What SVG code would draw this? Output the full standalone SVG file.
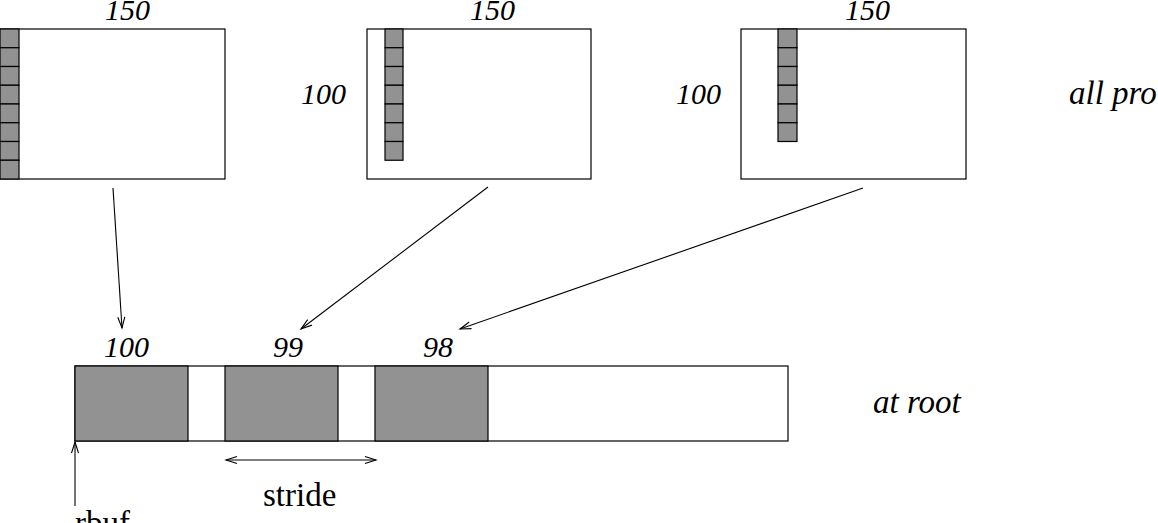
<svg xmlns="http://www.w3.org/2000/svg" width="1158" height="523" viewBox="0 0 1158 523">
<style>
.box{fill:#fff;stroke:#000;stroke-width:1.2}
.cell{fill:#929292;stroke:#000;stroke-width:1.2}
text{font-family:'Liberation Serif','Times New Roman',Times,'DejaVu Serif',serif;fill:#000}
.num{font-style:italic;font-size:30px}
.word{font-style:italic;font-size:33px}
.plain{font-size:33px}
.conn{stroke:#000;stroke-width:1.1;fill:none}
</style>
<defs>
<marker id="ah" markerUnits="userSpaceOnUse" markerWidth="14" markerHeight="10" viewBox="-12 -5 14 10" refX="0" refY="0" orient="auto">
<path d="M-11,-3.5 L0,0 L-11,3.5" fill="none" stroke="#000" stroke-width="1.1"/>
</marker>
<marker id="ahs" markerUnits="userSpaceOnUse" markerWidth="14" markerHeight="10" viewBox="-12 -5 14 10" refX="0" refY="0" orient="auto-start-reverse">
<path d="M-11,-3.5 L0,0 L-11,3.5" fill="none" stroke="#000" stroke-width="1.1"/>
</marker>
</defs>
<rect width="1158" height="523" fill="#fff"/>

<g id="proc0">
<rect class="box" x="0" y="29" width="225" height="150"/>
<rect class="cell" x="0" y="29" width="19" height="18.75"/>
<rect class="cell" x="0" y="47.75" width="19" height="18.75"/>
<rect class="cell" x="0" y="66.5" width="19" height="18.75"/>
<rect class="cell" x="0" y="85.25" width="19" height="18.75"/>
<rect class="cell" x="0" y="104" width="19" height="18.75"/>
<rect class="cell" x="0" y="122.75" width="19" height="18.75"/>
<rect class="cell" x="0" y="141.5" width="19" height="18.75"/>
<rect class="cell" x="0" y="160.25" width="19" height="18.75"/>
<text class="num" x="105" y="20" font-family="Liberation Serif, serif">150</text>
</g>

<g id="proc1">
<rect class="box" x="367" y="29" width="224" height="150"/>
<rect class="cell" x="385" y="29" width="18" height="18.75"/>
<rect class="cell" x="385" y="47.75" width="18" height="18.75"/>
<rect class="cell" x="385" y="66.5" width="18" height="18.75"/>
<rect class="cell" x="385" y="85.25" width="18" height="18.75"/>
<rect class="cell" x="385" y="104" width="18" height="18.75"/>
<rect class="cell" x="385" y="122.75" width="18" height="18.75"/>
<rect class="cell" x="385" y="141.5" width="18" height="18.75"/>
<text class="num" x="470" y="20">150</text>
<text class="num" x="301" y="104">100</text>
</g>

<g id="proc2">
<rect class="box" x="741" y="29" width="225" height="150"/>
<rect class="cell" x="778" y="29" width="19" height="18.75"/>
<rect class="cell" x="778" y="47.75" width="19" height="18.75"/>
<rect class="cell" x="778" y="66.5" width="19" height="18.75"/>
<rect class="cell" x="778" y="85.25" width="19" height="18.75"/>
<rect class="cell" x="778" y="104" width="19" height="18.75"/>
<rect class="cell" x="778" y="122.75" width="19" height="18.75"/>
<text class="num" x="845" y="20">150</text>
<text class="num" x="676" y="104">100</text>
</g>

<g id="label-all">
<text class="word" x="1069" y="104">all pro</text>
</g>

<g id="rootbuf">
<rect class="box" x="75" y="366" width="713" height="75"/>
<rect class="cell" x="75" y="366" width="113" height="75"/>
<rect class="cell" x="225" y="366" width="113" height="75"/>
<rect class="cell" x="375" y="366" width="113" height="75"/>
<text class="num" x="104" y="357">100</text>
<text class="num" x="273" y="357">99</text>
<text class="num" x="423" y="357">98</text>
</g>

<g id="label-root">
<text class="word" x="873" y="413">at root</text>
</g>

<g id="label-stride">
<text class="plain" x="263" y="506">stride</text>
</g>

<g id="label-rbuf">
<text class="plain" x="75" y="534">rbuf</text>
</g>

<g id="connectors">
<line class="conn" x1="113" y1="188" x2="122" y2="328" marker-end="url(#ah)"/>
<line class="conn" x1="488" y1="187" x2="301" y2="329" marker-end="url(#ah)"/>
<line class="conn" x1="863" y1="188" x2="460" y2="329" marker-end="url(#ah)"/>
<line class="conn" x1="226" y1="460" x2="376" y2="460" marker-start="url(#ahs)" marker-end="url(#ah)"/>
<line class="conn" x1="75" y1="506" x2="75" y2="442" marker-end="url(#ah)"/>
</g>
</svg>
